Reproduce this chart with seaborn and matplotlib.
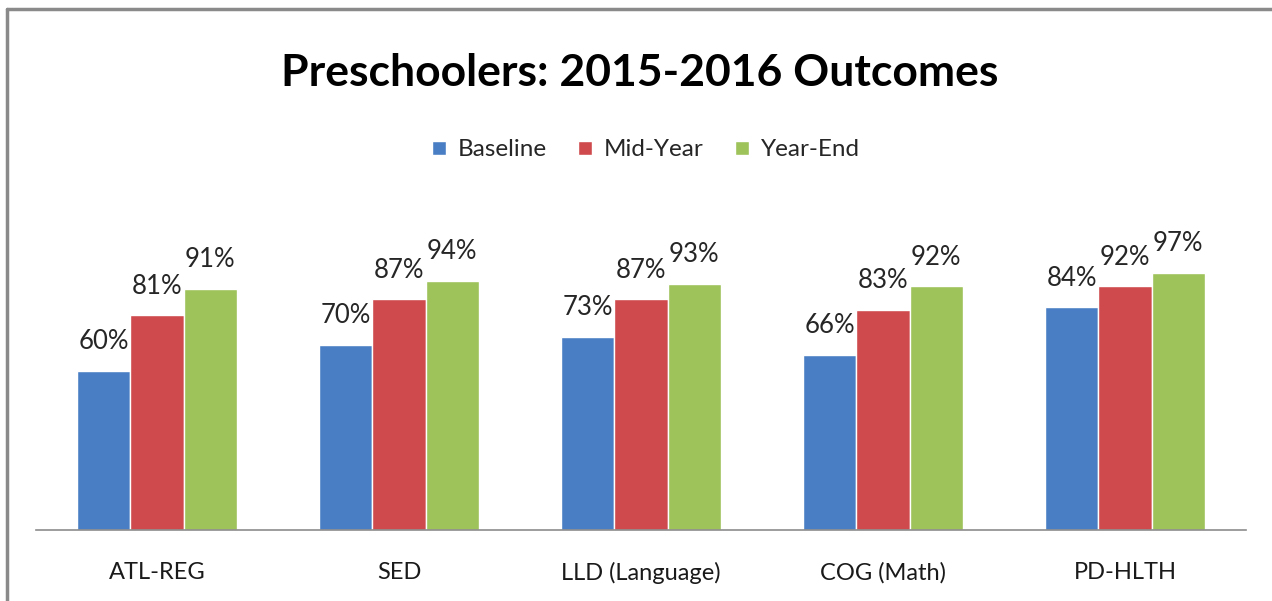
import matplotlib
matplotlib.use("Agg")
import matplotlib.pyplot as plt
from matplotlib.lines import Line2D
import seaborn as sns
import pandas as pd

categories = ["ATL-REG", "SED", "LLD (Language)", "COG (Math)", "PD-HLTH"]
series = ["Baseline", "Mid-Year", "Year-End"]
baseline = [60, 70, 73, 66, 84]
mid_year = [81, 87, 87, 83, 92]
year_end = [91, 94, 93, 92, 97]
colors = ["#4a7ec4", "#cf4a4c", "#9dc35a"]

rows = []
for s, vals in zip(series, [baseline, mid_year, year_end]):
    for c, v in zip(categories, vals):
        rows.append({"Category": c, "Series": s, "Value": v})
df = pd.DataFrame(rows)

sns.set_theme(style="white")
plt.rcParams["font.family"] = ["Lato", "DejaVu Sans"]

fig = plt.figure(figsize=(12.72, 6.01), dpi=100)
ax = fig.add_axes([36 / 1272, 1 - 530 / 601, 1210 / 1272, 340 / 601])

sns.barplot(data=df, x="Category", y="Value", hue="Series", order=categories,
            hue_order=series, palette=colors, width=0.66, saturation=1,
            ax=ax, legend=True)

for cont in ax.containers:
    ax.bar_label(cont, labels=[f"{int(v)}%" for v in cont.datavalues],
                 padding=12, fontsize=18.5, color="#262626")

ax.set_ylim(0, 340 / 2.65)
ax.set_xlim(-0.5, 4.5)
ax.set_xlabel("")
ax.set_ylabel("")
ax.set_yticks([])
for side in ["top", "right", "left"]:
    ax.spines[side].set_visible(False)
ax.spines["bottom"].set_color("#8c8c8c")
ax.spines["bottom"].set_linewidth(1.2)
ax.tick_params(axis="x", labelsize=17, colors="#1a1a1a", pad=23, length=0)

handles, labels = ax.get_legend_handles_labels()
ax.legend_.remove()
fig.legend(handles, labels, loc="center", bbox_to_anchor=(646 / 1272, 1 - 150 / 601),
           ncol=3, frameon=False, fontsize=17.5, handlelength=0.55, handleheight=0.55,
           handletextpad=0.5, columnspacing=1.3)

fig.text(640 / 1272, 1 - 73 / 601, "Preschoolers: 2015-2016 Outcomes",
         ha="center", va="center", fontsize=32, fontweight="bold", color="#000000")

fig.add_artist(Line2D([7 / 1272, 1.0], [1 - 9 / 601, 1 - 9 / 601],
                      transform=fig.transFigure, color="#8a8a8a", lw=2.5))
fig.add_artist(Line2D([7 / 1272, 7 / 1272], [0, 1 - 9 / 601],
                      transform=fig.transFigure, color="#8a8a8a", lw=2.5))

fig.savefig("out.png", dpi=100)
